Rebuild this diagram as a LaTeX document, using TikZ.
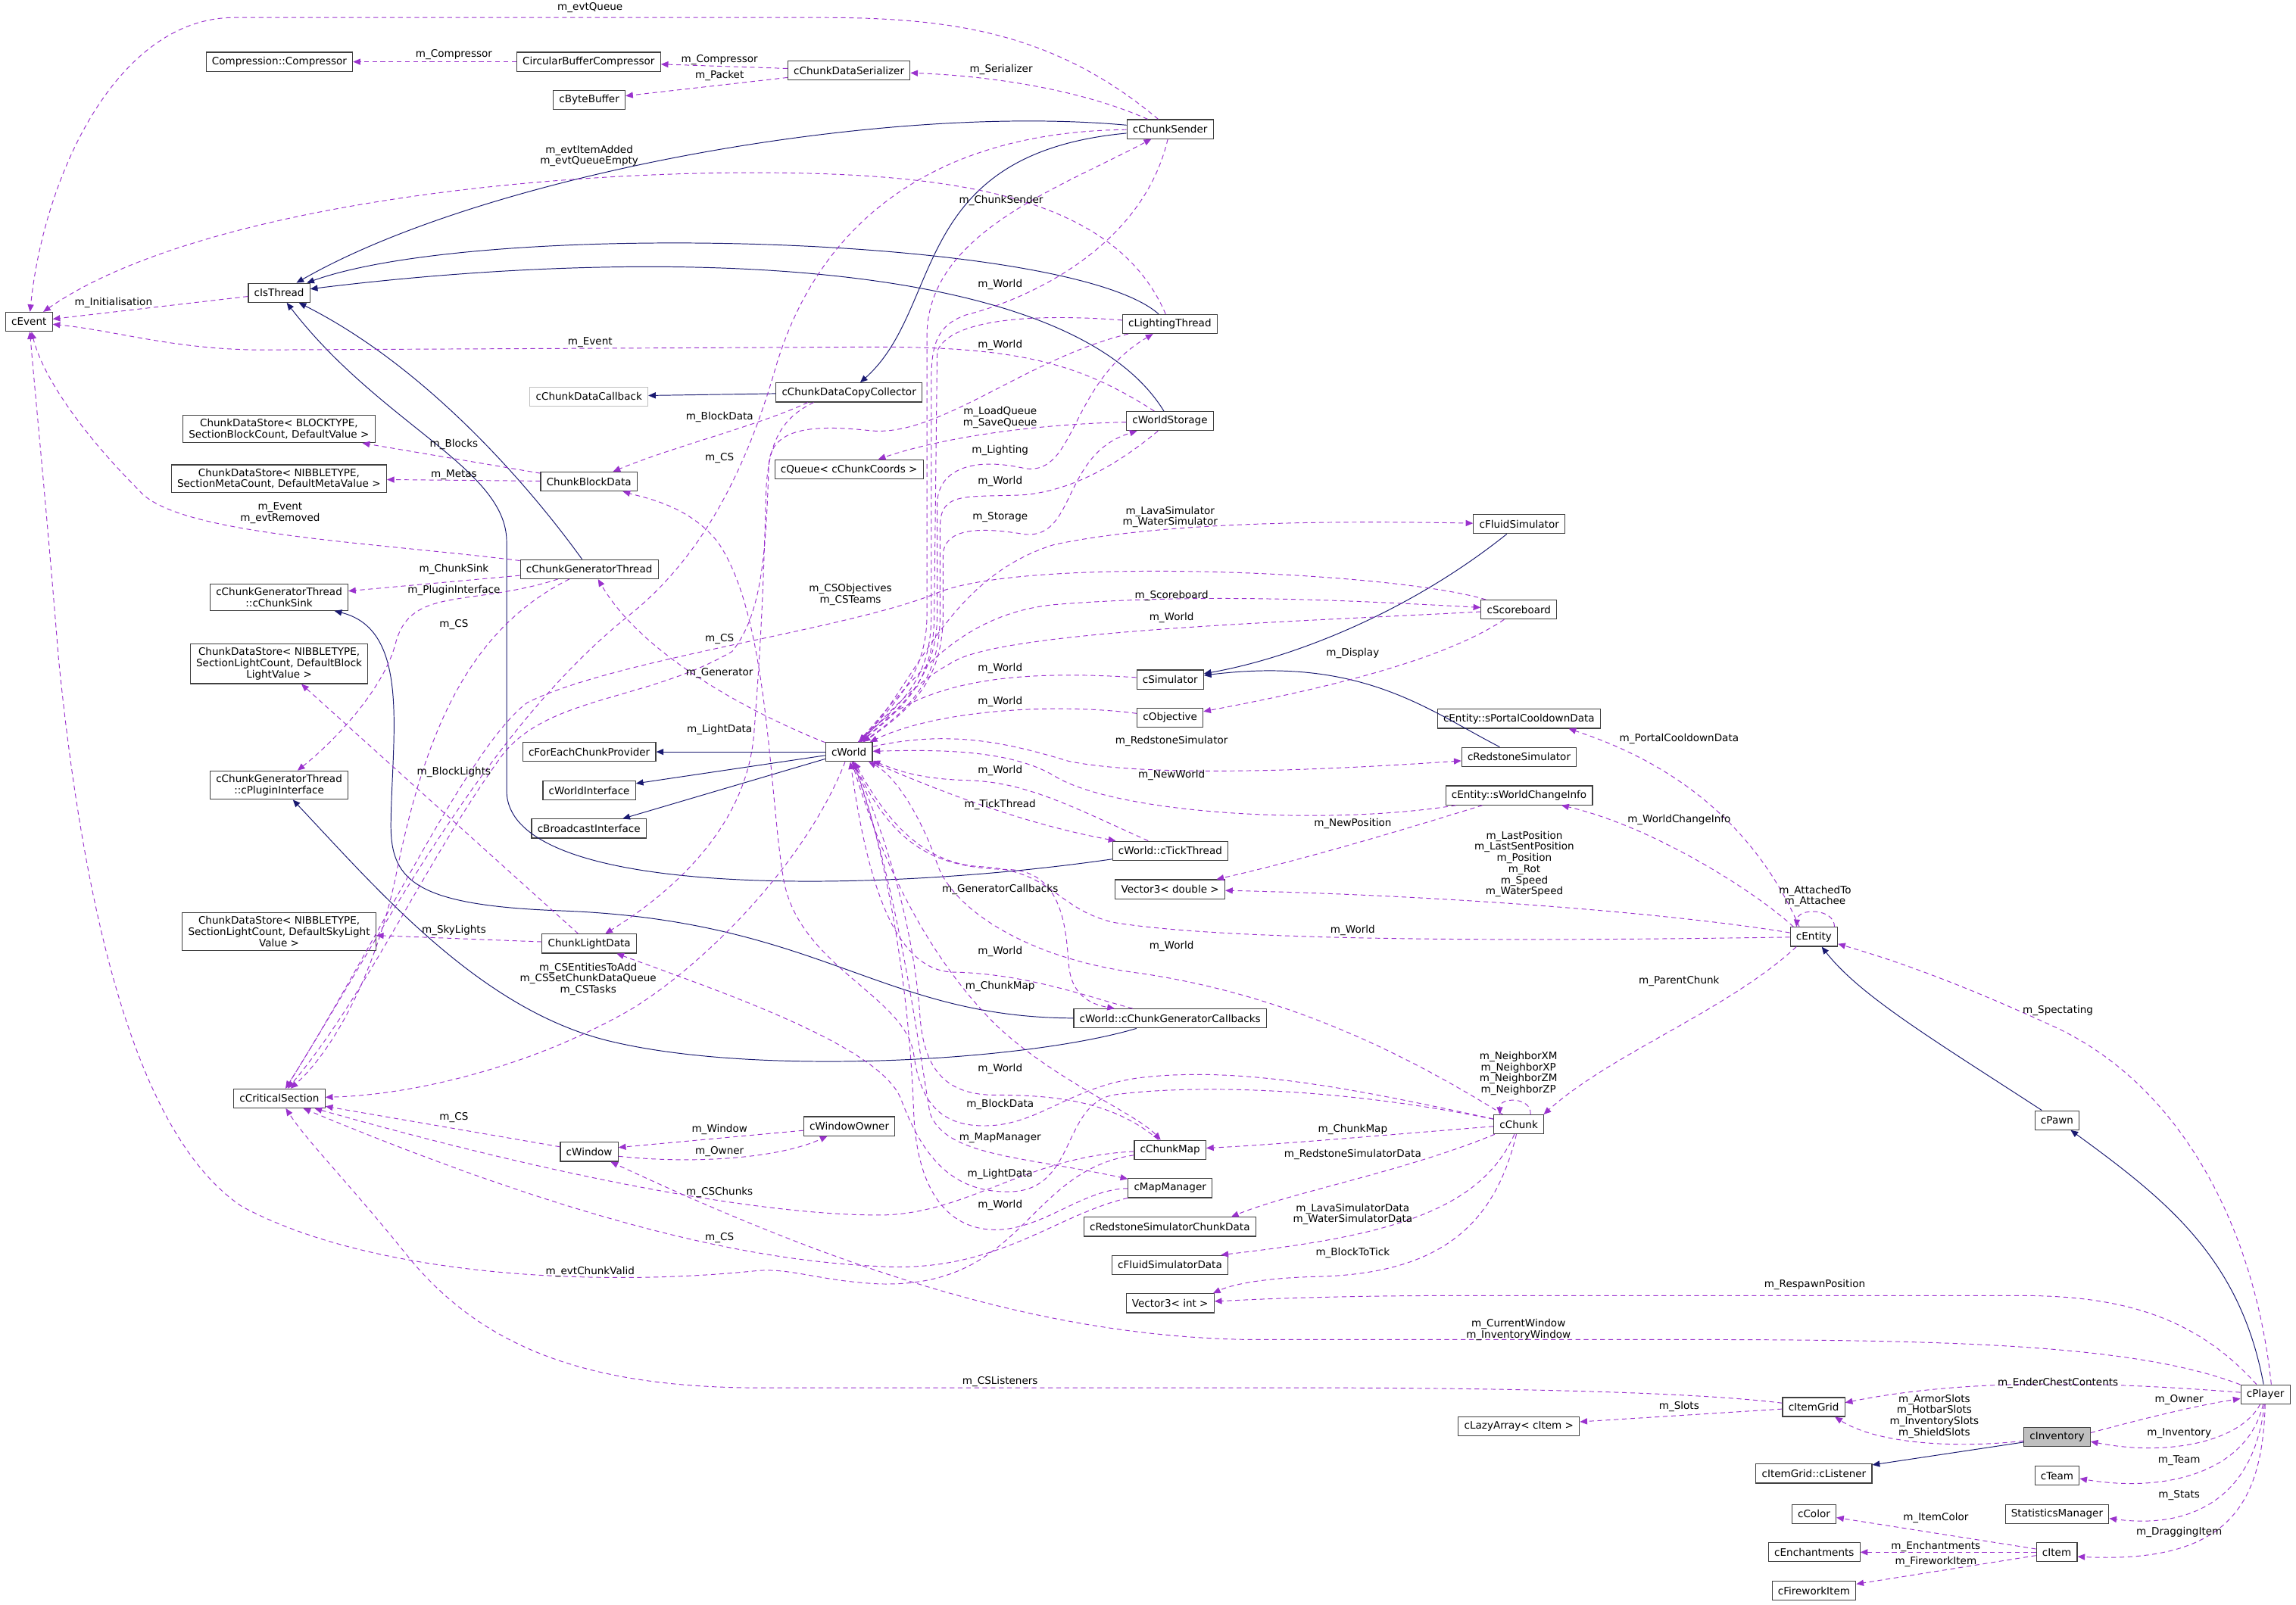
\documentclass[tikz,border=0pt]{standalone}
\usepackage{fontspec}
\setmainfont{DejaVu Sans}
\usetikzlibrary{arrows.meta,calc}
\definecolor{inhblue}{RGB}{25,25,112}
\definecolor{membpurple}{RGB}{154,50,205}
\definecolor{rootgray}{RGB}{191,191,191}
\tikzset{
  cls/.style={draw=black!75, fill=white, line width=0.6pt, font=\fontsize{7}{7.6}\selectfont,
    inner xsep=4pt, inner ysep=2.5pt, minimum height=13pt, align=center},
  lbl/.style={font=\fontsize{7}{7.6}\selectfont, inner sep=0pt, align=center},
  inh/.style={draw=inhblue, line width=0.5pt, -{Triangle[length=5pt,width=4.2pt]}},
  memb/.style={draw=membpurple, line width=0.5pt, dash pattern=on 3.2pt off 2.4pt,
    -{Triangle[length=5pt,width=4.2pt]}}
}
\begin{document}
\begin{tikzpicture}[x=1pt, y=-1pt]
  \useasboundingbox (0,0) rectangle (1568,1096);

  % classes
  \node[cls] (evt)    at (19.8,219.8)   {cEvent};
  \node[cls] (comp)   at (190.8,42.2)   {Compression::Compressor};
  \node[cls] (cbc)    at (402,42.2)     {CircularBufferCompressor};
  \node[cls] (bbuf)   at (402.4,68.3)   {cByteBuffer};
  \node[cls] (cds)    at (579.8,48.2)   {cChunkDataSerializer};
  \node[cls] (sender) at (799.1,88.2)   {cChunkSender};
  \node[cls] (isthr)  at (190.6,200)    {cIsThread};
  \node[cls] (light)  at (798.9,221.3)  {cLightingThread};
  \node[cls, draw=rootgray] (cdcb) at (402.2,270.8) {cChunkDataCallback};
  \node[cls] (cdcc)   at (579.8,268.1)  {cChunkDataCopyCollector};
  \node[cls] (wstor)  at (799,287.6)    {cWorldStorage};
  \node[cls] (dsblk)  at (190.5,293)    {ChunkDataStore< BLOCKTYPE,\\ SectionBlockCount, DefaultValue >};
  \node[cls] (dsmeta) at (190.5,326.9)  {ChunkDataStore< NIBBLETYPE,\\ SectionMetaCount, DefaultMetaValue >};
  \node[cls] (cbd)    at (402.2,328.9)  {ChunkBlockData};
  \node[cls] (queue)  at (579.8,320.5)  {cQueue< cChunkCoords >};
  \node[cls] (fluid)  at (1037.5,358)   {cFluidSimulator};
  \node[cls] (gen)    at (402.4,388.8)  {cChunkGeneratorThread};
  \node[cls] (sink)   at (190.6,408)    {cChunkGeneratorThread\\::cChunkSink};
  \node[cls] (score)  at (1037.3,416.4) {cScoreboard};
  \node[cls] (dsbl)   at (190.6,453.5)  {ChunkDataStore< NIBBLETYPE,\\ SectionLightCount, DefaultBlock\\LightValue >};
  \node[cls] (sim)    at (799.1,464.2)  {cSimulator};
  \node[cls] (obj)    at (799.1,490.3)  {cObjective};
  \node[cls] (portal) at (1037.3,491)   {cEntity::sPortalCooldownData};
  \node[cls] (world)  at (579.8,513.6)  {cWorld};
  \node[cls] (fecp)   at (402.4,513.6)  {cForEachChunkProvider};
  \node[cls] (redsim) at (1037.4,517)   {cRedstoneSimulator};
  \node[cls] (plugin) at (190.6,536.3)  {cChunkGeneratorThread\\::cPluginInterface};
  \node[cls] (wint)   at (402.4,539.9)  {cWorldInterface};
  \node[cls] (wci)    at (1037.4,543.3) {cEntity::sWorldChangeInfo};
  \node[cls] (bint)   at (402.2,566)    {cBroadcastInterface};
  \node[cls] (tick)   at (799.2,581.1)  {cWorld::cTickThread};
  \node[cls] (v3d)    at (799.1,607.4)  {Vector3< double >};
  \node[cls] (dssky)  at (190.6,636.4)  {ChunkDataStore< NIBBLETYPE,\\ SectionLightCount, DefaultSkyLight\\Value >};
  \node[cls] (entity) at (1238.8,639.9) {cEntity};
  \node[cls] (cld)    at (402.4,644.6)  {ChunkLightData};
  \node[cls] (gcb)    at (799.1,695.7)  {cWorld::cChunkGeneratorCallbacks};
  \node[cls] (crit)   at (190.8,750.3)  {cCriticalSection};
  \node[cls] (pawn)   at (1404.8,765.2) {cPawn};
  \node[cls] (chunk)  at (1037.2,768)   {cChunk};
  \node[cls] (wowner) at (580,769.3)    {cWindowOwner};
  \node[cls] (cmap)   at (799.1,785.4)  {cChunkMap};
  \node[cls] (window) at (402.4,786.8)  {cWindow};
  \node[cls] (mapmgr) at (799.1,811.6)  {cMapManager};
  \node[cls] (rscd)   at (798.9,838)    {cRedstoneSimulatorChunkData};
  \node[cls] (fsd)    at (799,864)      {cFluidSimulatorData};
  \node[cls] (v3i)    at (799.1,890.2)  {Vector3< int >};
  \node[cls] (player) at (1547.1,952.4) {cPlayer};
  \node[cls] (igrid)  at (1238.6,961.1) {cItemGrid};
  \node[cls] (lazy)   at (1037.3,974.2) {cLazyArray< cItem >};
  \node[cls, fill=rootgray] (inv) at (1404.8,981.7) {cInventory};
  \node[cls] (listener) at (1238.8,1006.6) {cItemGrid::cListener};
  \node[cls] (team)   at (1404.8,1008)  {cTeam};
  \node[cls] (stats)  at (1404.8,1034.2) {StatisticsManager};
  \node[cls] (color)  at (1238.8,1034.2) {cColor};
  \node[cls] (ench)   at (1239,1060.3)  {cEnchantments};
  \node[cls] (item)   at (1404.6,1060.3) {cItem};
  \node[cls] (fwi)    at (1238.8,1086.6) {cFireworkItem};

  % inheritance
  \draw[inh] (sender) .. controls (600,70) and (330,120) .. (isthr);
  \draw[inh] (light) .. controls (730,160) and (330,150) .. (isthr);
  \draw[inh] (wstor) .. controls (730,175) and (450,168) .. (isthr);
  \draw[inh] (gen) .. controls (360,330) and (290,250) .. (isthr);
  \draw[inh] (tick) .. controls (600,610) and (346,615) .. (346,540) -- (346,370)
    .. controls (346,320) and (260,290) .. (isthr);
  \draw[inh] (sender) .. controls (620,105) and (645,210) .. (cdcc);
  \draw[inh] (cdcc) -- (cdcb);
  \draw[inh] (world) -- (fecp);
  \draw[inh] (world) -- (wint);
  \draw[inh] (world) -- (bint);
  \draw[inh] (fluid) .. controls (960,420) and (880,450) .. (sim);
  \draw[inh] (redsim) .. controls (975,485) and (930,448) .. (sim);
  \draw[inh] (gcb) .. controls (600,695) and (560,628) .. (380,622)
    .. controls (280,618) and (266,600) .. (267,560) .. controls (268,500) and (280,430) .. (sink);
  \draw[inh] (gcb) .. controls (700,725) and (520,735) .. (420,712)
    .. controls (330,692) and (260,610) .. (plugin);
  \draw[inh] (pawn) .. controls (1320,710) and (1270,680) .. (entity);
  \draw[inh] (player) .. controls (1530,860) and (1480,820) .. (pawn);
  \draw[inh] (inv) -- (listener);

  % members, upper part
  \draw[memb] (sender) .. controls (720,22) and (650,12) .. (560,12) -- (160,12)
    .. controls (80,12) and (30,120) .. (evt);
  \draw[memb] (cbc) -- (comp);
  \draw[memb] (cds) -- (cbc);
  \draw[memb] (cds) -- (bbuf);
  \draw[memb] (sender) .. controls (740,62) and (680,52) .. (cds);
  \draw[memb] (light) .. controls (760,130) and (640,117) .. (500,118)
    .. controls (320,120) and (120,150) .. (evt);
  \draw[memb] (isthr) -- (evt);
  \draw[memb] (wstor) .. controls (740,250) and (700,237) .. (600,237) -- (180,239)
    .. controls (120,239) and (80,226) .. (evt);
  \draw[memb] (gen) .. controls (250,370) and (120,365) .. (95,335)
    .. controls (60,300) and (30,260) .. (evt);
  \draw[memb] (cbd) -- (dsblk);
  \draw[memb] (cbd) -- (dsmeta);
  \draw[memb] ([xshift=22pt]cdcc.south west) .. controls (520,290) and (460,305) .. (cbd);
  \draw[memb] ([xshift=26pt]cdcc.south west) .. controls (535,285) and (524,300) .. (523,340)
    .. controls (521,420) and (518,460) .. (515,500) .. controls (510,570) and (450,615) .. (cld);
  \draw[memb] (cld) -- (dsbl);
  \draw[memb] (cld) -- (dssky);
  \draw[memb] (gen) -- (sink);
  \draw[memb] (gen) .. controls (320,415) and (280,400) .. (270,440)
    .. controls (262,470) and (230,505) .. (plugin);
  \draw[memb] (gen) .. controls (320,430) and (290,500) .. (270,600)
    .. controls (255,670) and (225,720) .. (crit);
  \draw[memb] (sender) .. controls (640,90) and (560,150) .. (530,250)
    .. controls (510,320) and (480,380) .. (430,420) .. controls (330,500) and (260,640) .. (crit);
  \draw[memb] (light) .. controls (700,245) and (640,300) .. (593,294)
    .. controls (555,290) and (526,292) .. (525,318) .. controls (523,380) and (520,420) .. (500,445)
    .. controls (440,480) and (370,475) .. (340,520) .. controls (290,590) and (250,680) .. (crit);
  \draw[memb] (wstor) .. controls (700,290) and (640,300) .. (queue);

  % members of and to cWorld
  \draw[memb] (world) .. controls (612,480) and (633,460) .. (633,420) -- (633,230)
    .. controls (633,160) and (720,130) .. (sender);
  \draw[memb] (sender) .. controls (780,170) and (700,205) .. (660,215)
    .. controls (640,222) and (636,235) .. (636,260) -- (636,420) .. controls (636,465) and (615,480) .. (world);
  \draw[memb] (light) .. controls (720,215) and (650,215) .. (640,240) -- (638,420)
    .. controls (638,465) and (618,482) .. (world);
  \draw[memb] (world) .. controls (617,482) and (640,462) .. (640,420) -- (640,345)
    .. controls (640,320) and (665,312) .. (700,320) .. controls (735,325) and (730,262) .. (light);
  \draw[memb] (wstor) .. controls (760,320) and (730,335) .. (700,338)
    .. controls (660,340) and (642,335) .. (642,360) -- (642,420) .. controls (642,465) and (620,485) .. (world);
  \draw[memb] (world) .. controls (622,485) and (644,465) .. (644,420) -- (644,380)
    .. controls (644,360) and (670,360) .. (700,365) .. controls (735,368) and (725,310) .. (wstor);
  \draw[memb] (world) .. controls (625,470) and (645,395) .. (720,372)
    .. controls (800,355) and (930,356) .. (fluid);
  \draw[memb] (world) .. controls (620,470) and (650,420) .. (720,413)
    .. controls (820,405) and (920,410) .. (score);
  \draw[memb] (score) .. controls (900,424) and (700,430) .. (655,450)
    .. controls (625,465) and (610,485) .. (world);
  \draw[memb] (score) .. controls (950,390) and (700,380) .. (640,405)
    .. controls (580,430) and (420,450) .. (360,480) .. controls (320,510) and (260,640) .. (crit);
  \draw[memb] (score) .. controls (980,455) and (880,475) .. (obj);
  \draw[memb] (sim) .. controls (700,458) and (630,462) .. (world);
  \draw[memb] (obj) .. controls (720,480) and (640,485) .. (world);
  \draw[memb] (world) .. controls (650,498) and (690,508) .. (730,520)
    .. controls (790,532) and (920,525) .. (redsim);
  \draw[memb] (wci) .. controls (900,565) and (760,555) .. (720,530)
    .. controls (690,512) and (640,512) .. (world);
  \draw[memb] (tick) .. controls (730,550) and (700,534) .. (660,533)
    .. controls (625,532) and (610,525) .. (world);
  \draw[memb] (world) .. controls (640,540) and (700,563) .. (tick);
  \draw[memb] (world) .. controls (610,580) and (640,593) .. (690,594)
    .. controls (728,596) and (728,640) .. (730,660) .. controls (732,680) and (745,686) .. (gcb);
  \draw[memb] (gcb) .. controls (740,680) and (700,665) .. (650,664)
    .. controls (610,662) and (592,600) .. (world);
  \draw[memb] (world) .. controls (605,600) and (640,660) .. (680,700)
    .. controls (720,738) and (775,760) .. (cmap);
  \draw[memb] (cmap) .. controls (760,752) and (720,748) .. (680,748)
    .. controls (645,748) and (630,730) .. (628,690) .. controls (622,620) and (600,560) .. (world);
  \draw[memb] (world) .. controls (612,600) and (625,700) .. (635,760)
    .. controls (645,790) and (700,790) .. (mapmgr);
  \draw[memb] (mapmgr) .. controls (740,812) and (712,840) .. (680,840)
    .. controls (645,840) and (626,810) .. (624,760) .. controls (620,650) and (598,560) .. (world);
  \draw[memb] (chunk) .. controls (960,720) and (880,680) .. (780,665)
    .. controls (700,655) and (650,620) .. (640,590) .. controls (630,560) and (612,530) .. (world);
  \draw[memb] (entity) .. controls (1100,642) and (850,645) .. (760,630)
    .. controls (720,620) and (720,595) .. (670,592) .. controls (630,590) and (605,560) .. (world);
  \draw[memb] (world) .. controls (520,490) and (440,450) .. ([xshift=6pt]gen.south);
  \draw[memb] (world) .. controls (550,590) and (480,660) .. (430,690)
    .. controls (360,730) and (280,748) .. (crit);

  % cEntity and cChunk
  \draw[memb] ([xshift=-10pt]entity.north) .. controls (1210,590) and (1170,530) .. ([xshift=34pt]portal.south);
  \draw[memb] ([xshift=-14pt]entity.north) .. controls (1200,610) and (1130,565) .. ([xshift=29pt]wci.south);
  \draw[memb] (entity) .. controls (1150,625) and (1000,612) .. (v3d);
  \draw[memb] ([xshift=-25pt]wci.south) .. controls (980,560) and (900,585) .. ([xshift=-6pt]v3d.north east);
  \draw[memb] ([xshift=14pt]entity.north) .. controls ([xshift=14pt,yshift=13pt]entity.north)
    and ([xshift=-11pt,yshift=13pt]entity.north) .. ([xshift=-12pt]entity.north);
  \draw[memb] ([xshift=-12pt]entity.south) .. controls (1180,690) and (1100,720) .. ([xshift=17pt]chunk.north);
  \draw[memb] ([xshift=8pt]chunk.north) .. controls ([xshift=9pt,yshift=12pt]chunk.north)
    and ([xshift=-13pt,yshift=12pt]chunk.north) .. ([xshift=-13pt]chunk.north);
  \draw[memb] (chunk) .. controls (950,775) and (870,782) .. (cmap);
  \draw[memb] (chunk) .. controls (960,800) and (880,815) .. ([xshift=-17pt]rscd.north east);
  \draw[memb] (chunk) .. controls (1010,830) and (940,845) .. ([xshift=-5pt]fsd.north east);
  \draw[memb] (chunk) .. controls (1020,840) and (980,870) .. (900,872)
    .. controls (860,873) and (840,878) .. ([xshift=-1pt]v3i.north east);
  \draw[memb] (chunk) .. controls (930,745) and (850,728) .. (780,736)
    .. controls (730,742) and (710,769) .. (672,769) .. controls (640,769) and (628,750) .. (624,720)
    .. controls (618,680) and (545,660) .. (535,600) .. controls (525,540) and (525,420) .. (490,370)
    .. controls (470,345) and (440,340) .. (cbd);
  \draw[memb] (chunk) .. controls (900,740) and (800,742) .. (760,748)
    .. controls (725,755) and (735,813) .. (690,814) .. controls (650,815) and (630,790) .. (615,750)
    .. controls (600,715) and (500,680) .. (cld);
  \draw[memb] (cmap) .. controls (700,790) and (660,830) .. (600,830)
    .. controls (540,830) and (420,815) .. (crit);
  \draw[memb] (mapmgr) .. controls (720,830) and (680,870) .. (600,865)
    .. controls (540,862) and (430,850) .. (crit);
  \draw[memb] (cmap) .. controls (700,800) and (700,880) .. (600,877)
    .. controls (560,875) and (540,866) .. (517,868) .. controls (400,880) and (250,870) .. (165,824)
    .. controls (100,780) and (60,650) .. (40,450) .. controls (32,350) and (25,280) .. (evt);

  % windows, player, inventory
  \draw[memb] (window) -- (crit);
  \draw[memb] (wowner) -- ([yshift=3pt]window.east);
  \draw[memb] ([yshift=-3pt]window.east) .. controls (470,795) and (530,792) .. ([xshift=-15pt]wowner.south);
  \draw[memb] (player) .. controls (1450,915) and (1300,915) .. (1100,915) -- (850,915)
    .. controls (700,912) and (560,860) .. (window);
  \draw[memb] (player) .. controls (1500,900) and (1450,885) .. (1380,885) -- (1000,885)
    .. controls (900,885) and (850,888) .. (v3i);
  \draw[memb] ([xshift=4pt]player.north) .. controls (1540,840) and (1490,740) .. (1400,700)
    .. controls (1330,668) and (1290,655) .. (entity);
  \draw[memb] (player) .. controls (1450,945) and (1350,940) .. ([yshift=3pt]igrid.east);
  \draw[memb] ([yshift=3pt]inv.east) .. controls (1460,970) and (1500,960) .. ([yshift=-3pt]player.west);
  \draw[memb] (player) .. controls (1530,985) and (1480,995) .. ([yshift=-3pt]inv.east);
  \draw[memb] (player) .. controls (1535,1005) and (1480,1020) .. ([yshift=-2pt]team.east);
  \draw[memb] (player) .. controls (1540,1020) and (1500,1045) .. ([yshift=-3pt]stats.east);
  \draw[memb] (player) .. controls (1545,1030) and (1520,1068) .. ([yshift=-3pt]item.east);
  \draw[memb] (inv) .. controls (1330,990) and (1280,985) .. ([xshift=-7pt]igrid.south east);
  \draw[memb] (igrid) -- ([yshift=3pt]lazy.east);
  \draw[memb] (igrid) .. controls (1150,950) and (1000,948) .. (900,948) -- (520,948)
    .. controls (400,948) and (330,920) .. (280,860) .. controls (240,810) and (210,780) .. (crit);
  \draw[memb] (item) -- (color);
  \draw[memb] (item) -- (ench);
  \draw[memb] (item) -- (fwi);

  % labels
  \node[lbl] (l1)  at (403,5)       {m\_evtQueue};
  \node[lbl] (l2)  at (310,37.5)    {m\_Compressor};
  \node[lbl] (l3)  at (491.4,40.8)  {m\_Compressor};
  \node[lbl] (l4)  at (491.4,51.8)  {m\_Packet};
  \node[lbl] (l5)  at (683.7,47.7)  {m\_Serializer};
  \node[lbl] (l6)  at (402.4,106.5) {m\_evtItemAdded\\m\_evtQueueEmpty};
  \node[lbl] (l7)  at (683.7,137)   {m\_ChunkSender};
  \node[lbl] (l8)  at (683,194.2)   {m\_World};
  \node[lbl] (l9)  at (77.5,206.6)  {m\_Initialisation};
  \node[lbl] (l10) at (403,234)     {m\_Event};
  \node[lbl] (l11) at (683,235.6)   {m\_World};
  \node[lbl] (l12) at (683,285)     {m\_LoadQueue\\m\_SaveQueue};
  \node[lbl] (l13) at (491.4,285)   {m\_BlockData};
  \node[lbl] (l14) at (310,303.3)   {m\_Blocks};
  \node[lbl] (l15) at (683,307.5)   {m\_Lighting};
  \node[lbl] (l16) at (491.4,312.8) {m\_CS};
  \node[lbl] (l17) at (310,324.2)   {m\_Metas};
  \node[lbl] (l18) at (683,329.1)   {m\_World};
  \node[lbl] (l19) at (191.3,350.3) {m\_Event\\m\_evtRemoved};
  \node[lbl] (l20) at (683,353.1)   {m\_Storage};
  \node[lbl] (l21) at (799.1,353.2) {m\_LavaSimulator\\m\_WaterSimulator};
  \node[lbl] (l22) at (310,388.8)   {m\_ChunkSink};
  \node[lbl] (l23) at (310,403.1)   {m\_PluginInterface};
  \node[lbl] (l24) at (580.8,406.2) {m\_CSObjectives\\m\_CSTeams};
  \node[lbl] (l25) at (800.1,407.1) {m\_Scoreboard};
  \node[lbl] (l26) at (800.1,422.1) {m\_World};
  \node[lbl] (l27) at (310,426.6)   {m\_CS};
  \node[lbl] (l28) at (491.4,436.3) {m\_CS};
  \node[lbl] (l29) at (923.8,446.1) {m\_Display};
  \node[lbl] (l30) at (683,456.8)   {m\_World};
  \node[lbl] (l31) at (491.4,459.6) {m\_Generator};
  \node[lbl] (l32) at (683,479.5)   {m\_World};
  \node[lbl] (l33) at (491.4,498.5) {m\_LightData};
  \node[lbl] (l34) at (1146.7,504.5) {m\_PortalCooldownData};
  \node[lbl] (l35) at (800.1,506.4) {m\_RedstoneSimulator};
  \node[lbl] (l36) at (683,526.6)   {m\_World};
  \node[lbl] (l37) at (310,527.3)   {m\_BlockLights};
  \node[lbl] (l38) at (800.1,529.7) {m\_NewWorld};
  \node[lbl] (l39) at (683,549.8)   {m\_TickThread};
  \node[lbl] (l40) at (1146.7,559.8) {m\_WorldChangeInfo};
  \node[lbl] (l41) at (923.8,562.4) {m\_NewPosition};
  \node[lbl] (l42) at (1041,590.3)  {m\_LastPosition\\m\_LastSentPosition\\m\_Position\\m\_Rot\\m\_Speed\\m\_WaterSpeed};
  \node[lbl] (l43) at (683,607.8)   {m\_GeneratorCallbacks};
  \node[lbl] (l44) at (1239.6,612.3) {m\_AttachedTo\\m\_Attachee};
  \node[lbl] (l45) at (923.8,635.3) {m\_World};
  \node[lbl] (l46) at (310,635.6)   {m\_SkyLights};
  \node[lbl] (l47) at (800.1,646.5) {m\_World};
  \node[lbl] (l48) at (683,649.8)   {m\_World};
  \node[lbl] (l49) at (401.7,668.8) {m\_CSEntitiesToAdd\\m\_CSSetChunkDataQueue\\m\_CSTasks};
  \node[lbl] (l50) at (1146.7,670)  {m\_ParentChunk};
  \node[lbl] (l51) at (683,673.6)   {m\_ChunkMap};
  \node[lbl] (l52) at (1405.4,690.4) {m\_Spectating};
  \node[lbl] (l53) at (683,730.3)   {m\_World};
  \node[lbl] (l54) at (1037,733.3)  {m\_NeighborXM\\m\_NeighborXP\\m\_NeighborZM\\m\_NeighborZP};
  \node[lbl] (l55) at (683,754.6)   {m\_BlockData};
  \node[lbl] (l56) at (310,763.2)   {m\_CS};
  \node[lbl] (l57) at (491.4,771.7) {m\_Window};
  \node[lbl] (l58) at (923.8,771.7) {m\_ChunkMap};
  \node[lbl] (l59) at (683,777.2)   {m\_MapManager};
  \node[lbl] (l60) at (491.4,786.5) {m\_Owner};
  \node[lbl] (l61) at (923.8,788.4) {m\_RedstoneSimulatorData};
  \node[lbl] (l62) at (683,801.9)   {m\_LightData};
  \node[lbl] (l63) at (491.4,814.7) {m\_CSChunks};
  \node[lbl] (l64) at (683,823.5)   {m\_World};
  \node[lbl] (l65) at (923.8,829.4) {m\_LavaSimulatorData\\m\_WaterSimulatorData};
  \node[lbl] (l66) at (491.4,845.8) {m\_CS};
  \node[lbl] (l67) at (923.8,855.6) {m\_BlockToTick};
  \node[lbl] (l68) at (403,868.9)   {m\_evtChunkValid};
  \node[lbl] (l69) at (1239.3,877.4) {m\_RespawnPosition};
  \node[lbl] (l70) at (1037,908.3)  {m\_CurrentWindow\\m\_InventoryWindow};
  \node[lbl] (l71) at (683,943.7)   {m\_CSListeners};
  \node[lbl] (l72) at (1405.4,944.8) {m\_EnderChestContents};
  \node[lbl] (l73) at (1488.2,956)  {m\_Owner};
  \node[lbl] (l74) at (1146.7,961)  {m\_Slots};
  \node[lbl] (l75) at (1321,967.4)  {m\_ArmorSlots\\m\_HotbarSlots\\m\_InventorySlots\\m\_ShieldSlots};
  \node[lbl] (l76) at (1488.2,978.8) {m\_Inventory};
  \node[lbl] (l77) at (1488.2,997.6) {m\_Team};
  \node[lbl] (l78) at (1488.2,1021.3) {m\_Stats};
  \node[lbl] (l79) at (1322,1036.8) {m\_ItemColor};
  \node[lbl] (l80) at (1488.2,1046.5) {m\_DraggingItem};
  \node[lbl] (l81) at (1322,1056.5) {m\_Enchantments};
  \node[lbl] (l82) at (1322,1066.7) {m\_FireworkItem};
\end{tikzpicture}
\end{document}
